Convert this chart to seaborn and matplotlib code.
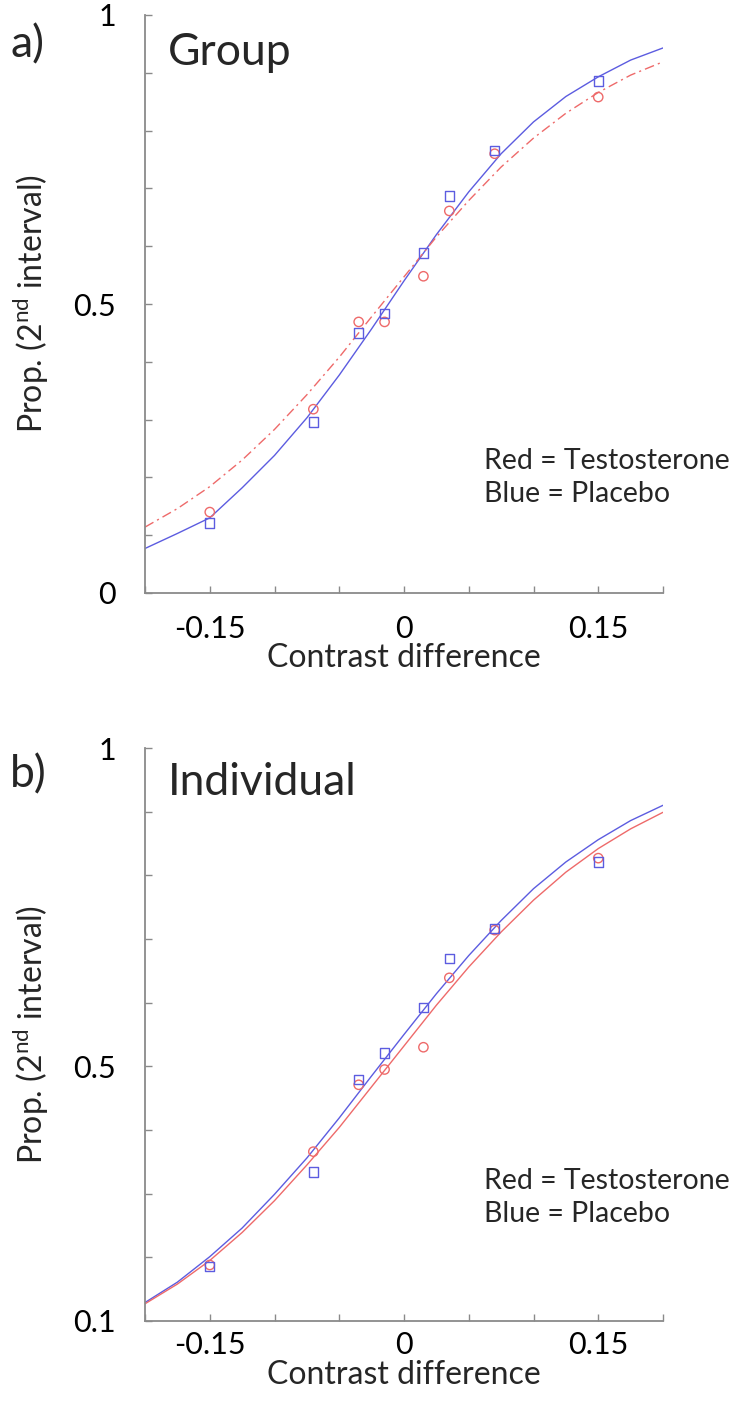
import numpy as np
import pandas as pd
import matplotlib
matplotlib.use("Agg")
import matplotlib.pyplot as plt
import seaborn as sns

# -----------------------------
# data
# -----------------------------
contrast = [-0.15, -0.07, -0.035, -0.015, 0.015, 0.035, 0.07, 0.15]

group_placebo = [0.121, 0.296, 0.450, 0.484, 0.588, 0.687, 0.765, 0.886]
group_testo = [0.140, 0.318, 0.469, 0.469, 0.548, 0.661, 0.760, 0.858]

indiv_placebo = [0.186, 0.334, 0.479, 0.521, 0.592, 0.669, 0.717, 0.821]
indiv_testo = [0.188, 0.366, 0.471, 0.495, 0.530, 0.639, 0.714, 0.827]

# fitted curves, every 0.025
fit_x = [-0.2, -0.175, -0.15, -0.125, -0.1, -0.075, -0.05, -0.025, 0.0,
         0.025, 0.05, 0.075, 0.1, 0.125, 0.15, 0.175, 0.2]
group_fit_placebo = [0.077, 0.103, 0.130, 0.182, 0.238, 0.303, 0.377, 0.457, 0.540,
                     0.620, 0.694, 0.760, 0.815, 0.859, 0.893, 0.922, 0.943]
group_fit_testo = [0.114, 0.146, 0.184, 0.230, 0.283, 0.343, 0.408, 0.478, 0.547,
                   0.616, 0.679, 0.737, 0.787, 0.830, 0.866, 0.896, 0.919]
indiv_fit_placebo = [0.129, 0.161, 0.201, 0.246, 0.299, 0.356, 0.419, 0.485, 0.550,
                     0.614, 0.674, 0.729, 0.779, 0.821, 0.856, 0.886, 0.910]
indiv_fit_testo = [0.127, 0.158, 0.195, 0.239, 0.289, 0.345, 0.404, 0.468, 0.532,
                   0.596, 0.656, 0.711, 0.761, 0.805, 0.842, 0.873, 0.899]

x_ticks = [-0.2, -0.15, -0.1, -0.05, 0.0, 0.05, 0.1, 0.15, 0.2]
x_labels = ["", "-0.15", "", "", "0", "", "", "0.15", ""]

BLUE = "#5c5ce0"
RED = "#ee6a6a"
GREY = "#8a8a8a"

sns.set_style("ticks")
plt.rcParams["font.family"] = ["Lato", "DejaVu Sans"]

fig = plt.figure(figsize=(7.39, 14.05), dpi=100)
ax_a = fig.add_axes([145 / 739, 1 - 593 / 1405, 518 / 739, 578 / 1405])
ax_b = fig.add_axes([145 / 739, 1 - 1321 / 1405, 518 / 739, 573 / 1405])


def draw_panel(ax, pts_b, pts_r, fit_b, fit_r, red_style, ymin, yticks, ylabels, note_y):
    sns.lineplot(x=fit_x, y=fit_b, ax=ax, color=BLUE, linewidth=1.0)
    sns.lineplot(x=fit_x, y=fit_r, ax=ax, color=RED, linewidth=1.0,
                 linestyle=red_style)
    sns.scatterplot(x=contrast, y=pts_r, ax=ax, marker="o", s=45,
                    facecolor="none", edgecolor=RED, linewidth=1.0, zorder=3)
    sns.scatterplot(x=contrast, y=pts_b, ax=ax, marker="s", s=45,
                    facecolor="none", edgecolor=BLUE, linewidth=1.0, zorder=3)

    ax.set_xlim(-0.2, 0.2)
    ax.set_ylim(ymin, 1)
    ax.set_xticks(x_ticks)
    ax.set_xticklabels(x_labels)
    ax.set_yticks(yticks)
    ax.set_yticklabels(ylabels)
    ax.tick_params(direction="in", length=5, width=1, color=GREY,
                   labelsize=22, labelcolor="black")
    ax.tick_params(axis="y", pad=21)
    ax.tick_params(axis="x", pad=16)
    sns.despine(ax=ax)
    for side in ["left", "bottom"]:
        ax.spines[side].set_color(GREY)
        ax.spines[side].set_linewidth(1.3)
    ax.set_xlabel("Contrast difference", fontsize=23, labelpad=0)
    ax.set_ylabel("Prop. (2$^{\\mathregular{nd}}$ interval)", fontsize=23, labelpad=16)
    ax.text(0.655, note_y, "Red = Testosterone\nBlue = Placebo", transform=ax.transAxes,
            fontsize=20.5, va="center", ha="left", linespacing=1.35)


yt_a = [0, 0.1, 0.2, 0.3, 0.4, 0.5, 0.6, 0.7, 0.8, 0.9, 1.0]
yl_a = ["0", "", "", "", "", "0.5", "", "", "", "", "1"]
draw_panel(ax_a, group_placebo, group_testo, group_fit_placebo, group_fit_testo,
           (0, (7, 3, 1.5, 3)), 0, yt_a, yl_a, 0.20)

yt_b = [0.1, 0.2, 0.3, 0.4, 0.5, 0.6, 0.7, 0.8, 0.9, 1.0]
yl_b = ["0.1", "", "", "", "0.5", "", "", "", "", "1"]
draw_panel(ax_b, indiv_placebo, indiv_testo, indiv_fit_placebo, indiv_fit_testo,
           "-", 0.1, yt_b, yl_b, 0.215)
ax_b.tick_params(axis="x", pad=7)
ax_b.xaxis.labelpad = 1

ax_a.text(0.045, 0.935, "Group", transform=ax_a.transAxes, fontsize=32,
          va="center", ha="left")
ax_b.text(0.045, 0.94, "Individual", transform=ax_b.transAxes, fontsize=32,
          va="center", ha="left")
fig.text(28 / 739, 1 - 45 / 1405, "a)", fontsize=32, ha="center", va="center")
fig.text(28 / 739, 1 - 775 / 1405, "b)", fontsize=32, ha="center", va="center")

fig.savefig("out.png", dpi=100)
